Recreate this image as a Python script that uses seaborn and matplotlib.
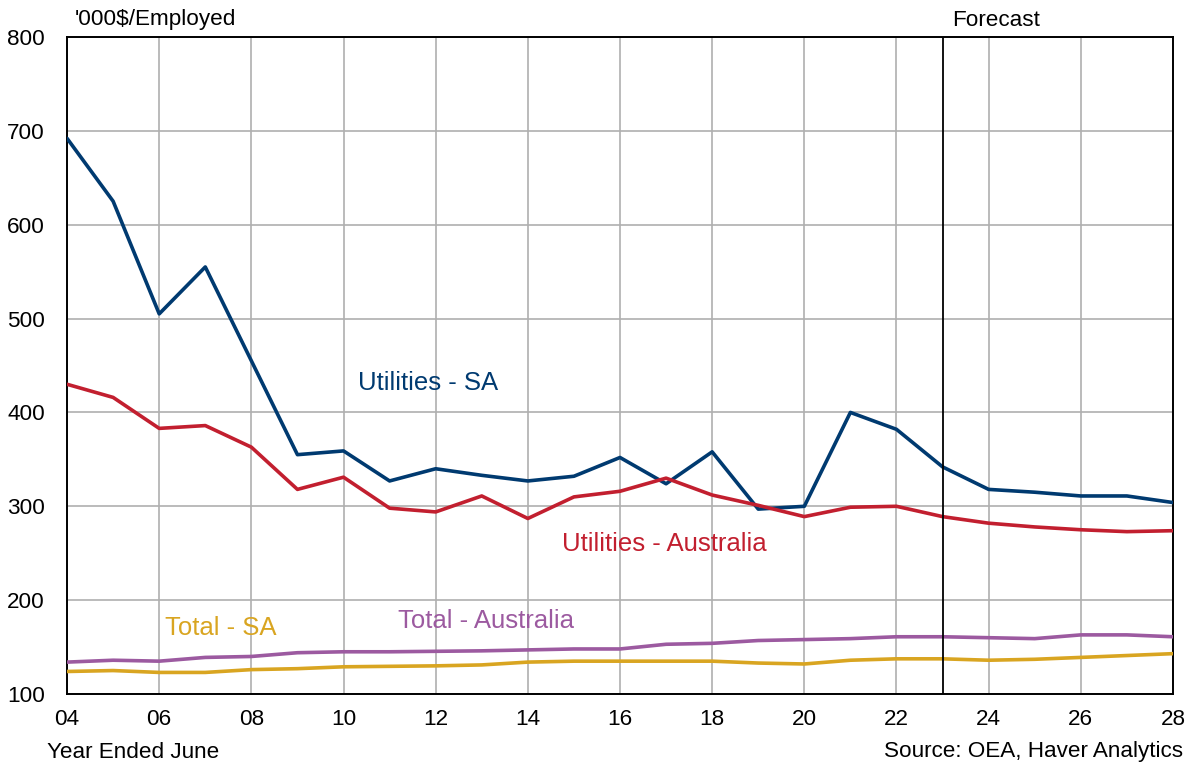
import matplotlib
matplotlib.use("Agg")
import matplotlib.pyplot as plt
import seaborn as sns
import pandas as pd

years = list(range(2004, 2029))

utilities_sa = [692, 625, 505, 555, 455, 355, 359, 327, 340, 333, 327, 332, 352, 324, 358,
                297, 300, 400, 382, 342, 318, 315, 311, 311, 304]
utilities_aus = [430, 416, 383, 386, 363, 318, 331, 298, 294, 311, 287, 310, 316, 330, 312,
                 301, 289, 299, 300, 289, 282, 278, 275, 273, 274]
total_aus = [134, 136, 135, 139, 140, 144, 145, 145, 145.5, 146, 147, 148, 148, 153, 154,
             157, 158, 159, 161, 161, 160, 159, 163, 163, 161]
total_sa = [124, 125, 123, 123, 126, 127, 129, 129.5, 130, 131, 134, 135, 135, 135, 135,
            133, 132, 136, 137.5, 137.5, 136, 137, 139, 141, 143]

series_names = ["Utilities - SA", "Utilities - Australia", "Total - Australia", "Total - SA"]
series_values = [utilities_sa, utilities_aus, total_aus, total_sa]
series_colors = ["#003A70", "#C21F2F", "#9C5AA0", "#D9A521"]

x_ticks = list(range(2004, 2029, 2))
x_tick_labels = [f"{y % 100:02d}" for y in x_ticks]
y_ticks = list(range(100, 801, 100))
forecast_start = 2023

frames = [pd.DataFrame({"year": years, "value": vals, "series": name})
          for name, vals in zip(series_names, series_values)]
df = pd.concat(frames, ignore_index=True)

sns.set_style("white")
plt.rcParams["font.family"] = ["Liberation Sans", "DejaVu Sans"]
plt.rcParams["text.color"] = "black"

BASE = 16.2
LABEL = 18.5

fig = plt.figure(figsize=(11.93, 7.64), dpi=100)
ax = fig.add_axes([0.0562, 0.0916, 0.927, 0.86])

sns.lineplot(data=df, x="year", y="value", hue="series", hue_order=series_names,
             palette=dict(zip(series_names, series_colors)), linewidth=2.6,
             legend=False, ax=ax, zorder=3)

ax.set_xlim(2004, 2028)
ax.set_ylim(100, 800)
ax.set_xticks(x_ticks)
ax.set_xticklabels(x_tick_labels)
ax.set_yticks(y_ticks)
ax.tick_params(axis="both", length=0, labelsize=BASE, colors="black")
ax.tick_params(axis="y", pad=16)
ax.tick_params(axis="x", pad=11)
ax.set_xlabel("")
ax.set_ylabel("")
ax.grid(True, color="#AFAFAF", linewidth=1.2, zorder=0)
ax.set_axisbelow(True)
for s in ax.spines.values():
    s.set_color("black")
    s.set_linewidth(1.4)

# forecast boundary
ax.axvline(forecast_start, color="black", linewidth=1.3, zorder=4)
ax.text(forecast_start + 0.2, 806, "Forecast", fontsize=BASE, color="black",
        ha="left", va="bottom")

# series labels
label_pos = {
    "Utilities - SA": (2010.31, 431),
    "Utilities - Australia": (2014.74, 260),
    "Total - SA": (2006.13, 170),
    "Total - Australia": (2011.18, 178),
}
for name, color in zip(series_names, series_colors):
    lx, ly = label_pos[name]
    ax.text(lx, ly, name, color=color, fontsize=LABEL, ha="left", va="center")

fig.text(75 / 1193, 1 - 20 / 764, "'000$/Employed", fontsize=BASE, color="black",
         ha="left", va="center")
fig.text(47 / 1193, 1 - 752 / 764, "Year Ended June", fontsize=BASE, color="black",
         ha="left", va="center")
fig.text(1183 / 1193, 1 - 752 / 764, "Source: OEA, Haver Analytics", fontsize=BASE,
         color="black", ha="right", va="center")

fig.savefig("out.png", dpi=100)
